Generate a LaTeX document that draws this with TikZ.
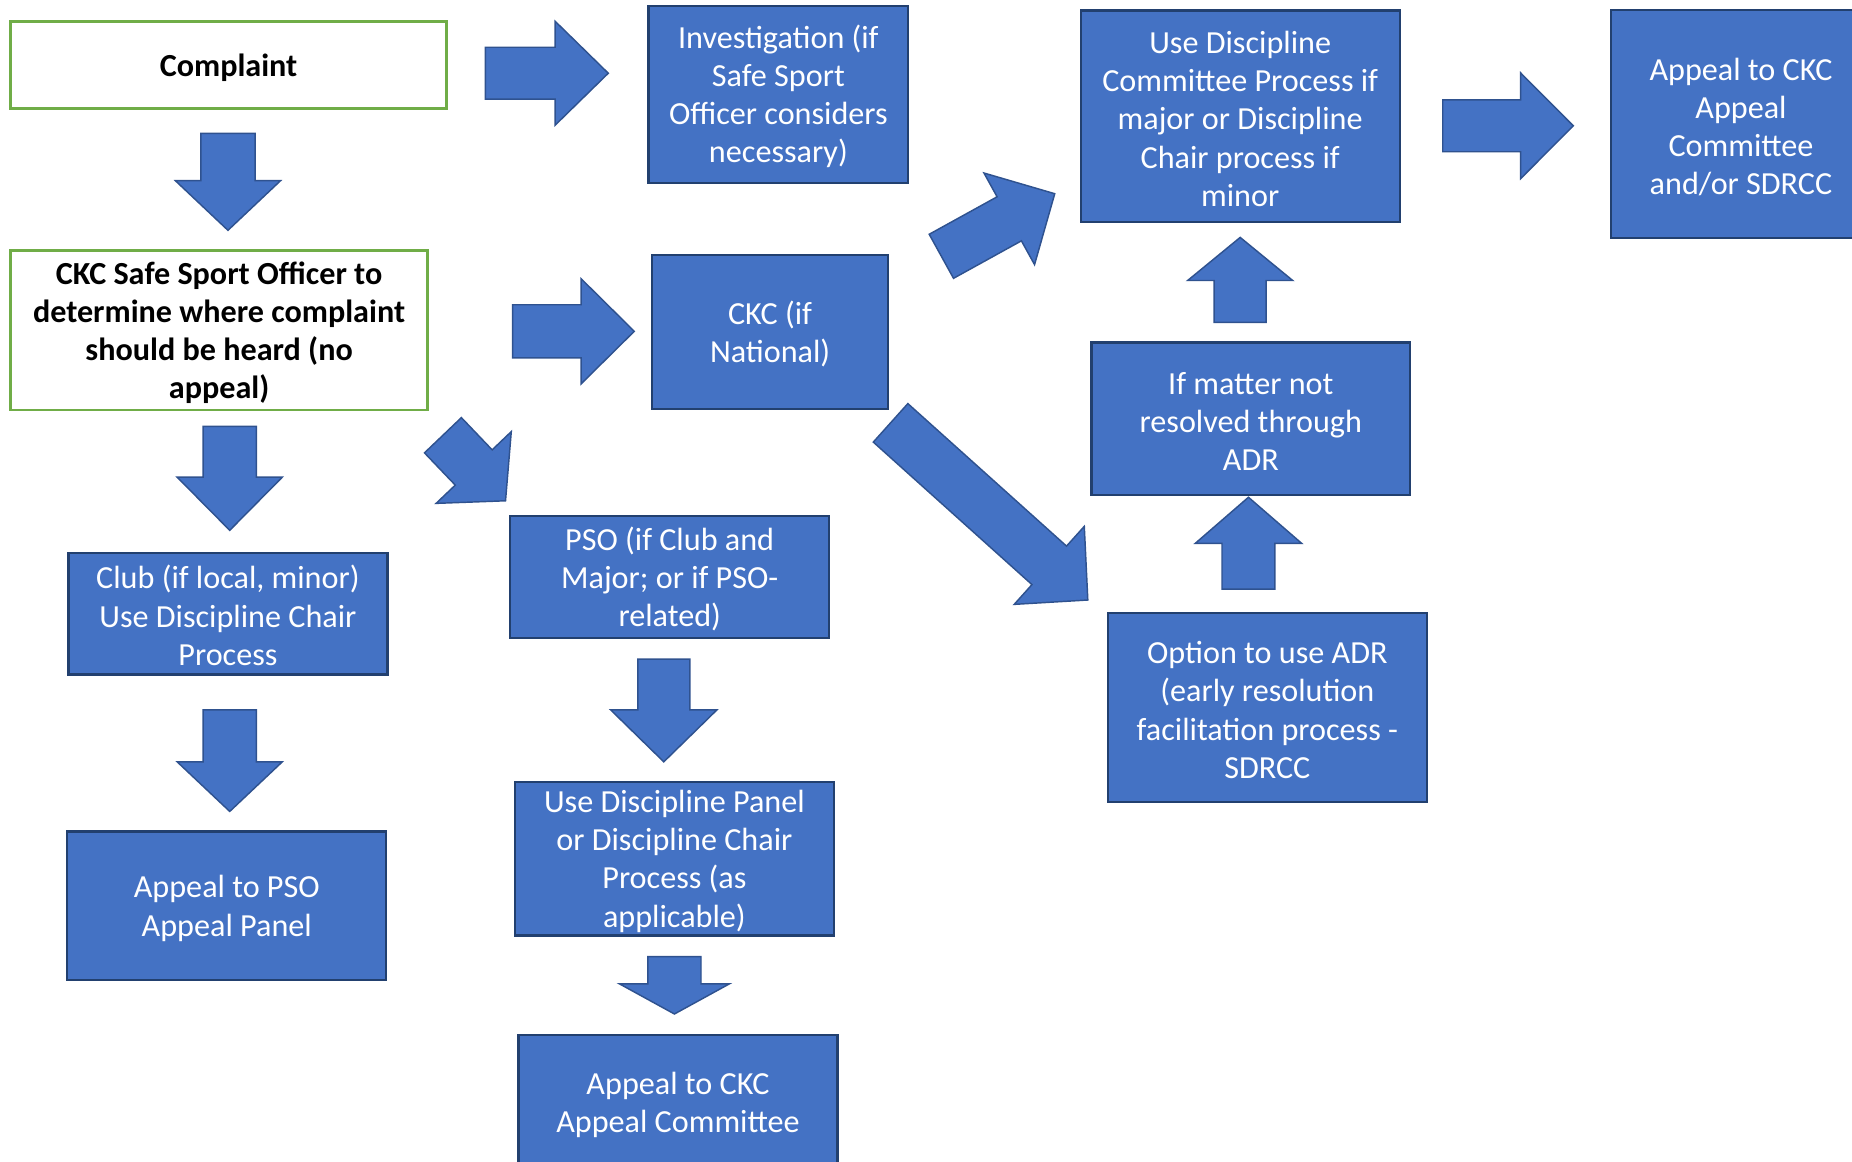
\documentclass[tikz,border=0pt]{standalone}
\usepackage{fontspec}
\setmainfont{Carlito}
\usetikzlibrary{calc}
\definecolor{boxblue}{HTML}{4472C4}
\definecolor{boxline}{HTML}{22406F}
\definecolor{arrowline}{HTML}{2F528F}
\definecolor{boxgreen}{HTML}{70AD47}
\newcommand{\boxfont}{\fontsize{15.5}{18.4}\selectfont}
\newcommand{\boxstrut}{\rule{0pt}{13.2pt}}
% block arrow: tail, tip, shaft half width, head half width, head length (px)
\newcommand{\blockarrow}[5]{%
  \coordinate (ba) at ($(#2)!#5*0.02cm!(#1)$);
  \draw[barrow] ($(#1)!#3*0.02cm!90:(#2)$) -- ($(ba)!#3*0.02cm!90:(#2)$) -- ($(ba)!#4*0.02cm!90:(#2)$) -- (#2)
     -- ($(ba)!#4*0.02cm!-90:(#2)$) -- ($(ba)!#3*0.02cm!-90:(#2)$) -- ($(#1)!#3*0.02cm!-90:(#2)$) -- cycle;}
\begin{document}
\begin{tikzpicture}[x=0.02cm, y=-0.02cm,
  bluebox/.style={draw=boxline, fill=boxblue, line width=1.1pt, text=white, align=center, inner sep=0pt, font=\boxfont},
  greenbox/.style={draw=boxgreen, fill=white, line width=1.2pt, align=center, inner sep=0pt, font=\boxfont\bfseries},
  sz/.style 2 args={minimum width=#1*0.02cm, minimum height=#2*0.02cm},
  barrow/.style={draw=arrowline, fill=boxblue, line width=0.7pt}]
\useasboundingbox (0,0) rectangle (1568,983);

% left column
\node[greenbox, sz={369}{74}] (complaint) at (193.5,55) {\boxstrut Complaint};
\node[greenbox, sz={353}{135}] (sso) at (185.5,279.5) {\boxstrut CKC Safe Sport Officer to\\determine where complaint\\should be heard (no\\appeal)};
\node[bluebox, sz={270}{103}] (club) at (193,519.5) {\boxstrut Club (if local, minor)\\Use Discipline Chair\\Process};
\node[bluebox, sz={270}{126}] (appealpso) at (192,767) {\boxstrut Appeal to PSO\\Appeal Panel};

% middle column
\node[bluebox, sz={220}{150}] (invest) at (659,80) {\boxstrut Investigation (if\\Safe Sport\\Officer considers\\necessary)};
\node[bluebox, sz={200}{130}] (ckcnat) at (652,281) {\boxstrut CKC (if\\National)};
\node[bluebox, sz={270}{103}] (pso) at (567,488.5) {\boxstrut PSO (if Club and\\Major; or if PSO-\\related)};
\node[bluebox, sz={270}{130}] (panel) at (571,727) {\boxstrut Use Discipline Panel\\or Discipline Chair\\Process (as\\applicable)};
\node[bluebox, sz={270}{114}] (appealckc) at (574,933) {\boxstrut Appeal to CKC\\Appeal Committee};

% right part
\node[bluebox, sz={270}{179}] (usedisc) at (1050,98.5) {\boxstrut Use Discipline\\Committee Process if\\major or Discipline\\Chair process if\\minor};
\node[bluebox, sz={270}{129}] (ifmatter) at (1059,354.5) {\boxstrut If matter not\\resolved through\\ADR};
\node[bluebox, sz={270}{160}] (option) at (1073,599) {\boxstrut Option to use ADR\\(early resolution\\facilitation process -\\SDRCC};
\node[bluebox, sz={220}{193}] (appealsdrcc) at (1474,105.25) {\boxstrut Appeal to CKC\\Appeal\\Committee\\and/or SDRCC};

% arrow ends
\coordinate (cmp-s) at (193,113);    \coordinate (cmp-e) at (193,195);
\coordinate (inv-s) at (411,62);     \coordinate (inv-e) at (515,62);
\coordinate (nat-s) at (434,280.5);  \coordinate (nat-e) at (537,280.5);
\coordinate (pso-s) at (375,368.5);  \coordinate (pso-e) at (428,424);
\coordinate (club-s) at (194.5,361); \coordinate (club-e) at (194.5,449);
\coordinate (apso-s) at (194.5,601); \coordinate (apso-e) at (194.5,687);
\coordinate (pan-s) at (562,558);    \coordinate (pan-e) at (562,645);
\coordinate (ackc-s) at (571,810);   \coordinate (ackc-e) at (571,858.5);
\coordinate (ud-s) at (797,217);     \coordinate (ud-e) at (893,164);
\coordinate (opt-s) at (754,358);    \coordinate (opt-e) at (921,508);
\coordinate (im-s) at (1050,273);    \coordinate (im-e) at (1050,201);
\coordinate (oi-s) at (1057,498.7);  \coordinate (oi-e) at (1057,421);
\coordinate (sd-s) at (1221.5,106.5); \coordinate (sd-e) at (1332,106.5);

\blockarrow{cmp-s}{cmp-e}{23}{44.5}{42}
\blockarrow{inv-s}{inv-e}{22}{44}{45}
\blockarrow{nat-s}{nat-e}{22.5}{44.5}{45}
\blockarrow{pso-s}{pso-e}{21.6}{44}{39}
\blockarrow{club-s}{club-e}{22.5}{44.5}{45}
\blockarrow{apso-s}{apso-e}{22.5}{44.5}{42}
\blockarrow{pan-s}{pan-e}{22}{45}{44}
\blockarrow{ackc-s}{ackc-e}{22.5}{46.5}{25.5}
\blockarrow{ud-s}{ud-e}{21.3}{44.3}{44}
\blockarrow{opt-s}{opt-e}{21.9}{44.4}{43.9}
\blockarrow{im-s}{im-e}{22}{44.5}{36.5}
\blockarrow{oi-s}{oi-e}{22.4}{45}{39}
\blockarrow{sd-s}{sd-e}{22}{44.7}{44.5}
\end{tikzpicture}
\end{document}
